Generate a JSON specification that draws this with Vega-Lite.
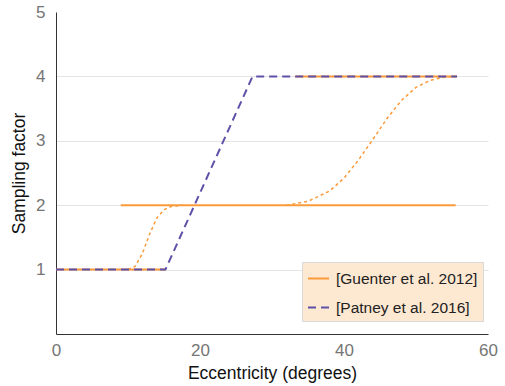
{
  "$schema": "https://vega.github.io/schema/vega-lite/v6.json",
  "width": 432,
  "height": 322,
  "autosize": {"type": "none"},
  "padding": {"left": 56, "top": 12, "right": 17, "bottom": 52},
  "background": "white",
  "config": {
    "view": {"stroke": null},
    "font": "Liberation Sans",
    "axis": {
      "domainColor": "#333333",
      "domainWidth": 1,
      "ticks": false,
      "labelColor": "#757575",
      "labelFontSize": 17,
      "titleFontSize": 17.5,
      "titleFontWeight": "normal",
      "titleColor": "#111111",
      "labelFlush": false
    }
  },
  "datasets": {
    "main": [
      {"method": "[Guenter et al. 2012]", "seg": "g1", "x": 0, "y": 1},
      {"method": "[Guenter et al. 2012]", "seg": "g1", "x": 15.2, "y": 1},
      {"method": "[Guenter et al. 2012]", "seg": "g2", "x": 9.0, "y": 2},
      {"method": "[Guenter et al. 2012]", "seg": "g2", "x": 55.5, "y": 2},
      {"method": "[Guenter et al. 2012]", "seg": "g3", "x": 33.2, "y": 4},
      {"method": "[Guenter et al. 2012]", "seg": "g3", "x": 55.7, "y": 4},
      {"method": "[Patney et al. 2016]", "seg": "p1", "x": 0, "y": 1},
      {"method": "[Patney et al. 2016]", "seg": "p1", "x": 15.2, "y": 1},
      {"method": "[Patney et al. 2016]", "seg": "p1", "x": 27.3, "y": 4},
      {"method": "[Patney et al. 2016]", "seg": "p1", "x": 55.7, "y": 4}
    ],
    "curves": [
      {"seg": "c1", "x": 10.0, "y": 1.0},
      {"seg": "c1", "x": 11.0, "y": 1.05},
      {"seg": "c1", "x": 12.0, "y": 1.25},
      {"seg": "c1", "x": 13.0, "y": 1.55},
      {"seg": "c1", "x": 14.0, "y": 1.8},
      {"seg": "c1", "x": 15.0, "y": 1.93},
      {"seg": "c1", "x": 16.0, "y": 1.98},
      {"seg": "c1", "x": 17.5, "y": 2.0},
      {"seg": "c2", "x": 32.0, "y": 2.0},
      {"seg": "c2", "x": 35.0, "y": 2.06},
      {"seg": "c2", "x": 38.0, "y": 2.22},
      {"seg": "c2", "x": 40.0, "y": 2.42},
      {"seg": "c2", "x": 42.0, "y": 2.7},
      {"seg": "c2", "x": 44.0, "y": 3.02},
      {"seg": "c2", "x": 46.0, "y": 3.35},
      {"seg": "c2", "x": 48.0, "y": 3.63},
      {"seg": "c2", "x": 50.0, "y": 3.83},
      {"seg": "c2", "x": 52.0, "y": 3.94},
      {"seg": "c2", "x": 54.0, "y": 3.99},
      {"seg": "c2", "x": 55.5, "y": 4.0}
    ]
  },
  "layer": [
    {
      "data": {"name": "curves"},
      "mark": {"type": "line", "color": "#fb9a3a", "strokeWidth": 1.5, "strokeDash": [3, 3]},
      "encoding": {
        "x": {"field": "x", "type": "quantitative"},
        "y": {"field": "y", "type": "quantitative"},
        "detail": {"field": "seg"}
      }
    },
    {
      "data": {"name": "main"},
      "mark": {"type": "line", "strokeWidth": 2},
      "encoding": {
        "x": {
          "field": "x", "type": "quantitative",
          "scale": {"domain": [0, 60], "nice": false},
          "axis": {"values": [0, 20, 40, 60], "format": "d", "grid": false, "title": "Eccentricity (degrees)", "labelPadding": 8, "titlePadding": 6}
        },
        "y": {
          "field": "y", "type": "quantitative",
          "scale": {"domain": [0, 5], "nice": false},
          "axis": {
            "values": [1, 2, 3, 4, 5],
            "format": "d",
            "grid": true,
            "gridColor": {"condition": {"test": "datum.value == 5", "value": "transparent"}, "value": "#e4e4e4"},
            "title": "Sampling factor",
            "labelPadding": 11,
            "titlePadding": 7
          }
        },
        "detail": {"field": "seg"},
        "color": {
          "field": "method", "type": "nominal",
          "scale": {"domain": ["[Guenter et al. 2012]", "[Patney et al. 2016]"], "range": ["#fb9a3a", "#5e51a8"]},
          "legend": {
            "title": null,
            "orient": "none",
            "legendX": 246,
            "legendY": 250,
            "fillColor": "#fde8d2",
            "strokeColor": "#d9d9d9",
            "padding": 5,
            "symbolType": "stroke",
            "symbolSize": 441,
            "symbolStrokeWidth": 2,
            "labelFontSize": 15.5,
            "labelColor": "#222222",
            "rowPadding": 9,
            "labelOffset": 6,
            "labelLimit": 300
          }
        },
        "strokeDash": {
          "field": "method", "type": "nominal",
          "scale": {"domain": ["[Guenter et al. 2012]", "[Patney et al. 2016]"], "range": [[1, 0], [8, 5]]},
          "legend": null
        }
      }
    }
  ]
}
